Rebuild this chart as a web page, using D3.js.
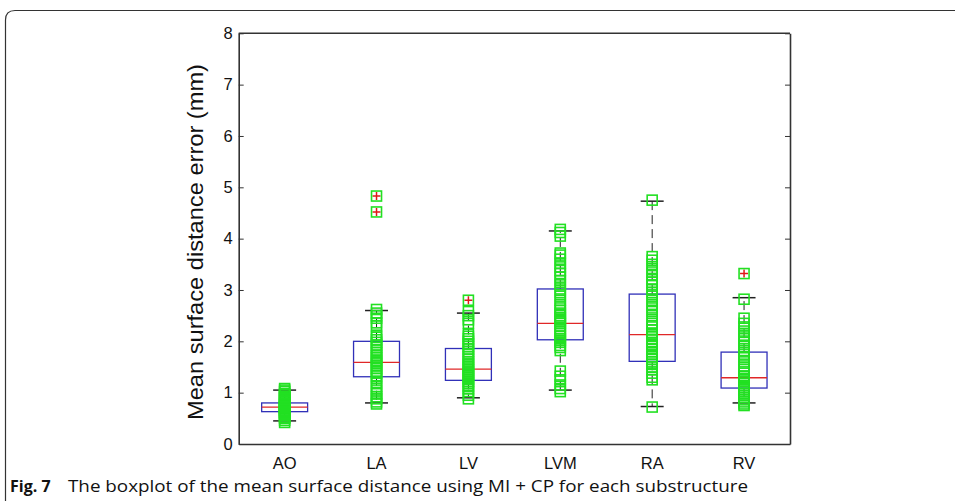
<!DOCTYPE html>
<html>
<head>
<meta charset="utf-8">
<script src="https://cdn.jsdelivr.net/npm/d3@7"></script>
<style>
  body { margin: 0; background: #fff; }
  svg { display: block; }
</style>
</head>
<body>
<div class="chart"></div>
<script>
var W = 955, H = 501;
var margin = { top: 33.3, right: 165, bottom: 57, left: 238.7 };
var width = W - margin.left - margin.right;
var height = H - margin.top - margin.bottom;

var categories = ['AO', 'LA', 'LV', 'LVM', 'RA', 'RV'];
var yTicks = [0, 1, 2, 3, 4, 5, 6, 7, 8];

// box stats
var q1 = [0.63, 1.31, 1.24, 2.03, 1.61, 1.09];
var median = [0.72, 1.59, 1.46, 2.35, 2.13, 1.29];
var q3 = [0.80, 2.00, 1.86, 3.02, 2.92, 1.79];
var whiskerLow = [0.45, 0.80, 0.90, 1.05, 0.73, 0.80];
var whiskerHigh = [1.05, 2.60, 2.55, 4.15, 4.73, 2.85];
var outliers = [[], [4.52, 4.83], [2.80], [], [], [3.32]];

// individual cases overlaid as green squares
var ptsAO = [0.42, 0.46, 0.50, 0.52, 0.55, 0.57, 0.60, 0.62, 0.63, 0.65, 0.66, 0.68, 0.70, 0.71, 0.72,
  0.73, 0.75, 0.76, 0.78, 0.80, 0.82, 0.84, 0.87, 0.90, 0.93, 0.96, 0.98, 1.02, 1.05, 1.08];
var ptsLA = [0.78, 0.82, 0.88, 0.92, 0.98, 1.05, 1.12, 1.20, 1.28, 1.33, 1.38, 1.42, 1.47, 1.52, 1.56,
  1.60, 1.63, 1.68, 1.72, 1.78, 1.83, 1.88, 1.93, 1.98, 2.03, 2.08, 2.12, 2.30, 2.36, 2.45, 2.50,
  2.55, 2.62, 4.52, 4.83];
var ptsLV = [0.88, 0.95, 1.02, 1.08, 1.12, 1.18, 1.22, 1.26, 1.30, 1.33, 1.36, 1.40, 1.44, 1.48, 1.52,
  1.56, 1.60, 1.65, 1.70, 1.75, 1.80, 1.85, 1.90, 1.95, 2.00, 2.05, 2.10, 2.14, 2.35, 2.42, 2.50,
  2.58, 2.80];
var ptsLVM = [1.02, 1.08, 1.15, 1.25, 1.32, 1.42, 1.82, 1.88, 1.92, 1.98, 2.02, 2.05, 2.10, 2.15, 2.20,
  2.25, 2.30, 2.35, 2.38, 2.42, 2.46, 2.50, 2.55, 2.60, 2.65, 2.72, 2.80, 2.88, 2.95, 3.02, 3.10,
  3.18, 3.25, 3.32, 3.38, 3.45, 3.52, 3.60, 3.68, 3.72, 4.05, 4.12, 4.18];
var ptsRA = [0.72, 1.25, 1.30, 1.38, 1.45, 1.50, 1.55, 1.60, 1.65, 1.70, 1.75, 1.80, 1.86, 1.92, 1.98,
  2.04, 2.10, 2.13, 2.16, 2.22, 2.28, 2.35, 2.42, 2.50, 2.58, 2.65, 2.72, 2.80, 2.88, 2.95, 3.02,
  3.10, 3.15, 3.20, 3.28, 3.35, 3.42, 3.50, 3.58, 3.65, 4.75];
var ptsRV = [0.75, 0.78, 0.82, 0.86, 0.90, 0.94, 0.98, 1.02, 1.06, 1.10, 1.14, 1.18, 1.22, 1.25, 1.28,
  1.32, 1.38, 1.45, 1.52, 1.60, 1.68, 1.75, 1.82, 1.90, 1.98, 2.05, 2.12, 2.20, 2.28, 2.35, 2.45,
  2.82, 3.32];
var points = [ptsAO, ptsLA, ptsLV, ptsLVM, ptsRA, ptsRV];

var boxes = categories.map((c, i) => ({
  cat: c, q1: q1[i], med: median[i], q3: q3[i],
  lo: whiskerLow[i], hi: whiskerHigh[i], out: outliers[i], pts: points[i]
}));

var root = d3.select('.chart')
  .append('svg')
  .attr('width', W)
  .attr('height', H);

// outer figure frame with rounded top-left corner
root.append('path')
  .attr('d', 'M5.5,' + H + ' L5.5,20 Q5.5,10.5 15,10.5 L' + W + ',10.5')
  .attr('fill', 'none')
  .attr('stroke', '#333')
  .attr('stroke-width', 1.2);

var svg = root.append('g')
  .attr('transform', `translate(${margin.left},${margin.top})`);

var xScale = d3.scaleBand()
  .domain(categories)
  .range([0, width])
  .padding(0);
var bw = xScale.bandwidth();
var boxW = bw * 0.5;
var cx = c => xScale(c) + bw / 2;

var yScale = d3.scaleLinear()
  .domain([0, 8])
  .range([height, 0]);

// axes: ticks point inward, right side carries ticks only
var yAxis = d3.axisLeft(yScale)
  .tickValues(yTicks)
  .tickFormat(d3.format('d'))
  .tickSizeInner(-5)
  .tickSizeOuter(0)
  .tickPadding(6);
var gy = svg.append('g').call(yAxis);
gy.selectAll('text')
  .style('font-family', 'Liberation Sans, Arial, sans-serif')
  .style('font-size', '16.5px')
  .attr('fill', '#111');

var gyr = svg.append('g')
  .attr('transform', `translate(${width},0)`)
  .call(d3.axisRight(yScale).tickValues(yTicks).tickFormat('').tickSizeInner(-5).tickSizeOuter(0));

var xAxis = d3.axisBottom(xScale).tickSize(0).tickPadding(13);
var gx = svg.append('g')
  .attr('transform', 'translate(0,' + height + ')')
  .call(xAxis);
gx.selectAll('text')
  .style('font-family', 'Liberation Sans, Arial, sans-serif')
  .style('font-size', '16.5px')
  .attr('fill', '#111');

svg.selectAll('.domain').attr('stroke', '#333').attr('stroke-width', 1.6);
svg.selectAll('.tick line').attr('stroke', '#333');

// top border of the axes box
svg.append('line')
  .attr('x1', 0).attr('x2', width)
  .attr('y1', 0).attr('y2', 0)
  .attr('stroke', '#333').attr('stroke-width', 1.6);

// y label
svg.append('text')
  .attr('transform', `translate(${203 - margin.left},${242 - margin.top}) rotate(-90)`)
  .attr('text-anchor', 'middle')
  .attr('textLength', 356)
  .attr('lengthAdjust', 'spacingAndGlyphs')
  .style('font-family', 'Liberation Sans, Arial, sans-serif')
  .style('font-size', '22px')
  .attr('fill', '#111')
  .text('Mean surface distance error (mm)');

var g = svg.selectAll('.box')
  .data(boxes)
  .enter()
  .append('g')
  .attr('class', 'box');

// whiskers
g.append('line')
  .attr('x1', d => cx(d.cat)).attr('x2', d => cx(d.cat))
  .attr('y1', d => yScale(d.q3)).attr('y2', d => yScale(d.hi))
  .attr('stroke', '#222').attr('stroke-dasharray', '9,5');
g.append('line')
  .attr('x1', d => cx(d.cat)).attr('x2', d => cx(d.cat))
  .attr('y1', d => yScale(d.q1)).attr('y2', d => yScale(d.lo))
  .attr('stroke', '#222').attr('stroke-dasharray', '9,5');
['hi', 'lo'].forEach(k => {
  g.append('line')
    .attr('x1', d => cx(d.cat) - boxW / 4).attr('x2', d => cx(d.cat) + boxW / 4)
    .attr('y1', d => yScale(d[k])).attr('y2', d => yScale(d[k]))
    .attr('stroke', '#222').attr('stroke-width', 1.5);
});

// box + median
g.append('rect')
  .attr('x', d => cx(d.cat) - boxW / 2)
  .attr('y', d => yScale(d.q3))
  .attr('width', boxW)
  .attr('height', d => yScale(d.q1) - yScale(d.q3))
  .attr('fill', 'none')
  .attr('stroke', '#3030b8')
  .attr('stroke-width', 1.3);
g.append('line')
  .attr('x1', d => cx(d.cat) - boxW / 2).attr('x2', d => cx(d.cat) + boxW / 2)
  .attr('y1', d => yScale(d.med)).attr('y2', d => yScale(d.med))
  .attr('stroke', '#e02828').attr('stroke-width', 1.3);

// outliers as red plus
g.each(function (d) {
  var s = d3.select(this);
  d.out.forEach(v => {
    s.append('path')
      .attr('d', `M${cx(d.cat) - 4},${yScale(v)}h8M${cx(d.cat)},${yScale(v) - 4}v8`)
      .attr('stroke', '#e01818').attr('stroke-width', 1.5);
  });
});

// green squares for each case
var sq = 10;
g.each(function (d) {
  d3.select(this).selectAll('rect.pt')
    .data(d.pts)
    .enter()
    .append('rect')
    .attr('class', 'pt')
    .attr('x', cx(d.cat) - sq / 2)
    .attr('y', v => yScale(v) - sq / 2)
    .attr('width', sq)
    .attr('height', sq)
    .attr('fill', 'none')
    .attr('stroke', '#22e022')
    .attr('stroke-width', 1.6);
});

// caption
root.append('text')
  .attr('x', 10).attr('y', 492)
  .style('font-family', 'Open Sans, sans-serif')
  .style('font-size', '16px')
  .style('font-weight', 'bold')
  .attr('fill', '#111')
  .text('Fig. 7');
root.append('text')
  .attr('x', 68).attr('y', 492)
  .attr('textLength', 680)
  .attr('lengthAdjust', 'spacingAndGlyphs')
  .style('font-family', 'Open Sans, sans-serif')
  .style('font-size', '16px')
  .attr('fill', '#111')
  .text('The boxplot of the mean surface distance using MI + CP for each substructure');
</script>
</body>
</html>
